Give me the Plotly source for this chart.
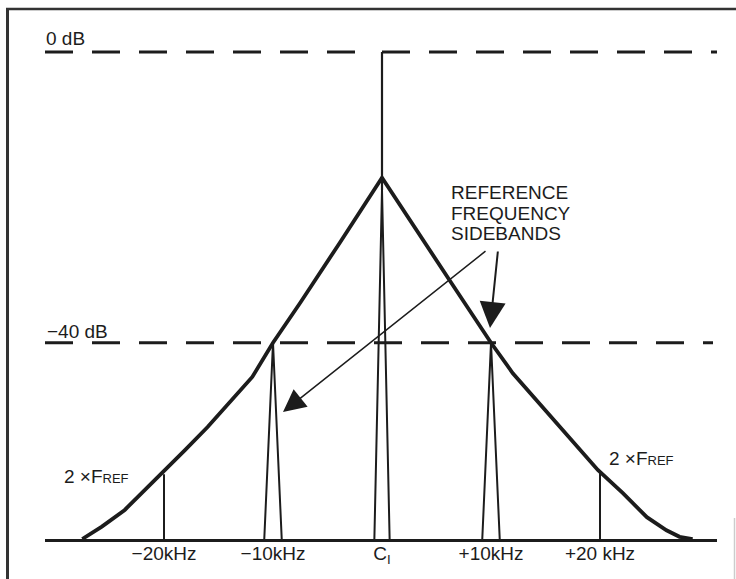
import plotly.graph_objects as go

# ---------------- data ----------------
# envelope of the synthesizer output spectrum (kHz offset from carrier, dB re carrier)
env_khz = [-27.5, -25.7, -23.6, -20.6, -18.1, -16.0, -13.8, -11.9, -10.0, -7.5, -3.9, 0.0,
           6.2, 10.0, 12.0, 14.2, 16.6, 19.8, 22.1, 24.3, 26.1, 27.3, 28.5]
env_db = [-67.0, -65.3, -63.0, -58.6, -54.8, -51.6, -47.9, -44.7, -40.0, -34.5, -26.3, -17.3,
          -31.4, -40.0, -44.2, -47.9, -52.0, -57.5, -60.7, -64.0, -65.8, -66.7, -67.0]

# discrete spectral lines
line_khz = [-20, -10, 0, 10, 20]
line_db = [-58.1, -40.0, -19.0, -40.0, -57.8]
carrier_db = 0
floor_db = -67

# reference levels and tick labels
ref_db = [0, -40]
ref_labels = ["0 dB", "\u221240 dB"]
tick_khz = [-20, -10, 0, 10, 20]
tick_text = ["\u221220kHz", "\u221210kHz", "C<sub>I</sub>", "+10kHz", "+20 kHz"]

# ---------------- layout constants ----------------
W, H = 736, 579
OFF = 0                      # page margin removed below
ML, MR, MT, MB = 45, 19, 8, 40
PX_PER_KHZ = 10.9
X0_PX = 382                  # carrier position (px)
ZERO_DB_PX = 52              # 0 dB position (px)
INK = "#1c1c1c"
FONT = "Liberation Sans, Arial, Helvetica, sans-serif"
FS = 19

pw, ph = W - ML - MR, H - MT - MB
left_pg, right_pg = ML + OFF, ML + OFF + pw
top_pg, bot_pg = MT + OFF, MT + OFF + ph
x_range = [(left_pg - X0_PX) / PX_PER_KHZ, (right_pg - X0_PX) / PX_PER_KHZ]
px_per_db = (bot_pg - ZERO_DB_PX) / (0 - floor_db)
y_range = [floor_db, (ZERO_DB_PX - top_pg) / px_per_db]


def px2x(px):
    return (px - left_pg) / pw


def px2y(py):
    return (bot_pg - py) / ph


def pxk(px):
    return (px - X0_PX) / PX_PER_KHZ


spike_w = 0.8    # half base width of the resolved sidebands (kHz)
carrier_w = 0.7

fig = go.Figure()

# envelope
fig.add_trace(go.Scatter(x=env_khz, y=env_db, mode="lines",
                         line=dict(color=INK, width=3.8), hoverinfo="skip"))

# spectral lines
sx, sy = [], []
for f, d in zip(line_khz, line_db):
    if f == 0:
        w = carrier_w
    elif abs(f) == 10:
        w = spike_w
    else:
        w = 0
    if w:
        sx += [f - w, f, f + w, None]
        sy += [floor_db, d, floor_db, None]
    else:
        sx += [f, f, None]
        sy += [floor_db, d, None]
fig.add_trace(go.Scatter(x=sx, y=sy, mode="lines",
                         line=dict(color=INK, width=2), hoverinfo="skip"))

# carrier line up to 0 dB
fig.add_trace(go.Scatter(x=[0, 0], y=[line_db[2], carrier_db], mode="lines",
                         line=dict(color=INK, width=2.2), hoverinfo="skip"))

shapes = []
dash = "28px,19px"
lw = 3
shapes.append(dict(type="line", xref="x", yref="y", x0=x_range[0], x1=pxk(356),
                   y0=ref_db[0], y1=ref_db[0], line=dict(color=INK, width=lw, dash=dash),
                   layer="below"))
shapes.append(dict(type="line", xref="x", yref="y", x0=0, x1=pxk(717),
                   y0=ref_db[0], y1=ref_db[0], line=dict(color=INK, width=lw, dash=dash),
                   layer="below"))
shapes.append(dict(type="line", xref="x", yref="y", x0=x_range[0], x1=pxk(713),
                   y0=ref_db[1], y1=ref_db[1], line=dict(color=INK, width=lw, dash=dash),
                   layer="below"))
# frame
shapes.append(dict(type="line", xref="paper", yref="paper", x0=px2x(7.5), x1=px2x(7.5),
                   y0=px2y(8), y1=px2y(600), line=dict(color="#333", width=3)))
shapes.append(dict(type="line", xref="paper", yref="paper", x0=px2x(6), x1=px2x(760),
                   y0=px2y(9), y1=px2y(9), line=dict(color="#333", width=2.5)))
shapes.append(dict(type="line", xref="paper", yref="paper", x0=px2x(734.5), x1=px2x(734.5),
                   y0=px2y(518), y1=px2y(600), line=dict(color="#cccccc", width=1.5)))

ann = []


def label(text, px, py, anchor="left", size=FS):
    ann.append(dict(text=text, x=px2x(px), y=px2y(py), xref="paper", yref="paper",
                    xanchor=anchor, yanchor="middle", showarrow=False,
                    font=dict(family=FONT, size=size, color=INK)))


label(ref_labels[0], 44, 38)
label(ref_labels[1], 45, 331)
fref = "2 \u00d7F<span style='font-size:13px'>REF</span>"
label(fref, 62, 476)
label(fref, 607, 458)
label("REFERENCE", 449, 193)
label("FREQUENCY", 449, 213)
label("SIDEBANDS", 449, 233)

# arrows
ann.append(dict(text="", x=px2x(283), y=px2y(412), xref="paper", yref="paper",
                ax=204, ay=-162, axref="pixel", ayref="pixel", showarrow=True,
                arrowhead=2, arrowsize=3.0, arrowwidth=1.5, arrowcolor=INK, standoff=0))
ann.append(dict(text="", x=px2x(490), y=px2y(328), xref="paper", yref="paper",
                ax=8, ay=-78, axref="pixel", ayref="pixel", showarrow=True,
                arrowhead=2, arrowsize=2.6, arrowwidth=2, arrowcolor=INK, standoff=0))

fig.update_layout(
    width=W, height=H, autosize=False,
    margin=dict(l=ML, r=MR, t=MT, b=MB, pad=0),
    paper_bgcolor="white", plot_bgcolor="rgba(0,0,0,0)",
    showlegend=False,
    shapes=shapes, annotations=ann,
    xaxis=dict(range=x_range, showgrid=False, zeroline=False, showline=True,
               linecolor=INK, linewidth=3, ticks="", tickvals=tick_khz,
               ticktext=tick_text, tickfont=dict(family=FONT, size=FS, color=INK),
               ticklabelstandoff=-5, fixedrange=True),
    yaxis=dict(range=y_range, visible=False, fixedrange=True),
)

fig.write_html(
    "out.html",
    config={"displayModeBar": False},
    post_script=("document.documentElement.style.margin='0';"
                 "document.body.style.margin='0';"
                 "document.documentElement.style.overflow='hidden';"
                 "document.body.style.overflow='hidden';"),
)
